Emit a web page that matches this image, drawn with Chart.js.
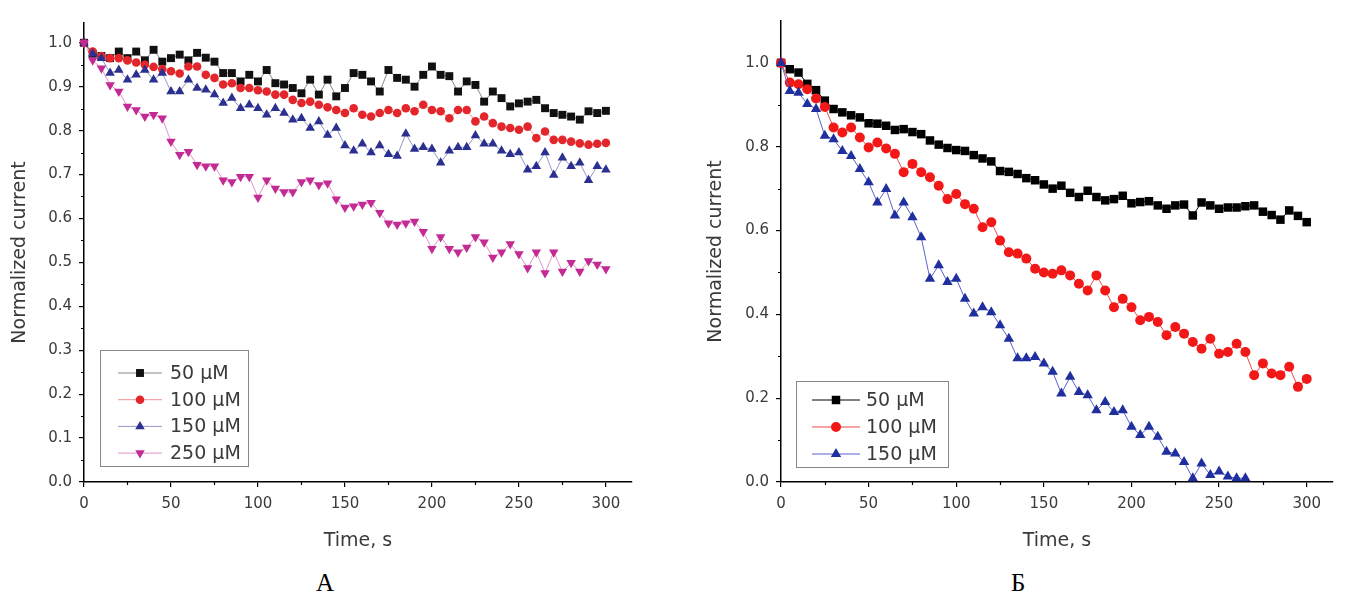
<!DOCTYPE html>
<html>
<head>
<meta charset="utf-8">
<script src="https://cdn.jsdelivr.net/npm/chart.js@4.4.1/dist/chart.umd.min.js"></script>
<style>
  body { margin: 0; background: #fff; width: 1348px; height: 594px; position: relative; overflow: hidden; }
  canvas { position: absolute; top: 0; }
  #chartA { left: 0; }
  #chartB { left: 674px; }
  .panel { position: absolute; font-family: 'Liberation Serif', serif; font-size: 25px; line-height: 25px; color: #000; }
</style>
</head>
<body>
<canvas id="chartA" width="674" height="560"></canvas>
<canvas id="chartB" width="674" height="560"></canvas>
<div class="panel" style="left:316px; top:570px;">А</div>
<div class="panel" style="left:1011px; top:570px;">Б</div>
<script>
// time axis, s
const time = [0, 5, 10, 15, 20, 25, 30, 35, 40, 45, 50, 55, 60, 65, 70, 75, 80, 85, 90, 95, 100,
    105, 110, 115, 120, 125, 130, 135, 140, 145, 150, 155, 160, 165, 170, 175, 180, 185, 190, 195, 200,
    205, 210, 215, 220, 225, 230, 235, 240, 245, 250, 255, 260, 265, 270, 275, 280, 285, 290, 295, 300];

const xTicks = [0, 50, 100, 150, 200, 250, 300];
const yTicksA = [0, 0.1, 0.2, 0.3, 0.4, 0.5, 0.6, 0.7, 0.8, 0.9, 1.0];
const yTicksB = [0, 0.2, 0.4, 0.6, 0.8, 1.0];

const labelsA = ['50 µM', '100 µM', '150 µM', '250 µM'];
const labelsB = ['50 µM', '100 µM', '150 µM'];

// panel A
const a50 = [1.0, 0.975, 0.97, 0.965, 0.98, 0.965, 0.98, 0.96, 0.984, 0.957, 0.965,
    0.973, 0.96, 0.977, 0.966, 0.957, 0.931, 0.931, 0.912, 0.927, 0.912,
    0.938, 0.908, 0.905, 0.897, 0.885, 0.916, 0.882, 0.916, 0.878, 0.897,
    0.931, 0.927, 0.912, 0.889, 0.938, 0.92, 0.916, 0.90, 0.927, 0.946,
    0.927, 0.924, 0.889, 0.912, 0.904, 0.866, 0.889, 0.874, 0.855, 0.862,
    0.866, 0.870, 0.851, 0.84, 0.836, 0.832, 0.825, 0.844, 0.84, 0.845];
const a100 = [1.0, 0.98, 0.97, 0.965, 0.965, 0.96, 0.955, 0.95, 0.945, 0.94, 0.935,
    0.93, 0.946, 0.946, 0.927, 0.92, 0.905, 0.908, 0.897, 0.897, 0.892,
    0.889, 0.882, 0.882, 0.87, 0.863, 0.866, 0.859, 0.853, 0.847, 0.84,
    0.851, 0.836, 0.832, 0.84, 0.847, 0.84, 0.851, 0.844, 0.859, 0.847,
    0.844, 0.828, 0.847, 0.847, 0.821, 0.832, 0.817, 0.809, 0.806, 0.802,
    0.809, 0.783, 0.798, 0.779, 0.779, 0.775, 0.771, 0.768, 0.77, 0.772];
const a150 = [1.0, 0.975, 0.965, 0.931, 0.938, 0.916, 0.927, 0.938, 0.916, 0.931, 0.889,
    0.889, 0.916, 0.897, 0.893, 0.882, 0.863, 0.874, 0.851, 0.859, 0.851,
    0.836, 0.851, 0.84, 0.825, 0.828, 0.806, 0.821, 0.79, 0.806, 0.766,
    0.754, 0.77, 0.75, 0.766, 0.746, 0.742, 0.793, 0.758, 0.762, 0.758,
    0.727, 0.754, 0.762, 0.762, 0.789, 0.77, 0.77, 0.754, 0.746, 0.75,
    0.711, 0.719, 0.75, 0.699, 0.738, 0.719, 0.727, 0.687, 0.719, 0.711];
const a250 = [1.0, 0.96, 0.942, 0.904, 0.889, 0.855, 0.847, 0.832, 0.836, 0.828, 0.775,
    0.745, 0.752, 0.722, 0.719, 0.719, 0.687, 0.683, 0.695, 0.695, 0.648,
    0.687, 0.668, 0.66, 0.66, 0.683, 0.687, 0.676, 0.68, 0.644, 0.625,
    0.628, 0.632, 0.636, 0.613, 0.589, 0.586, 0.589, 0.593, 0.57, 0.531,
    0.558, 0.531, 0.523, 0.534, 0.558, 0.546, 0.511, 0.523, 0.542, 0.519,
    0.487, 0.523, 0.476, 0.523, 0.479, 0.499, 0.479, 0.503, 0.495, 0.485];

// panel B
const b50 = [1.0, 0.985, 0.977, 0.95, 0.935, 0.91, 0.89, 0.882, 0.875, 0.87, 0.856,
    0.855, 0.85, 0.84, 0.842, 0.835, 0.83, 0.815, 0.805, 0.797, 0.792,
    0.79, 0.78, 0.772, 0.765, 0.742, 0.74, 0.735, 0.725, 0.72, 0.71,
    0.70, 0.707, 0.69, 0.68, 0.695, 0.68, 0.672, 0.675, 0.683, 0.665,
    0.668, 0.67, 0.66, 0.652, 0.66, 0.662, 0.636, 0.667, 0.66, 0.652,
    0.655, 0.655, 0.658, 0.66, 0.645, 0.637, 0.626, 0.648, 0.635, 0.62];
const b100 = [1.0, 0.953, 0.949, 0.937, 0.915, 0.895, 0.846, 0.834, 0.846, 0.822, 0.798,
    0.81, 0.796, 0.783, 0.739, 0.759, 0.739, 0.727, 0.707, 0.675, 0.687,
    0.663, 0.652, 0.608, 0.62, 0.576, 0.548, 0.545, 0.533, 0.509, 0.50,
    0.497, 0.505, 0.493, 0.473, 0.457, 0.493, 0.457, 0.417, 0.437, 0.417,
    0.386, 0.394, 0.382, 0.35, 0.37, 0.354, 0.334, 0.318, 0.342, 0.306,
    0.31, 0.33, 0.31, 0.255, 0.283, 0.259, 0.255, 0.275, 0.227, 0.246];
const b150 = [1.0, 0.933, 0.929, 0.902, 0.89, 0.826, 0.818, 0.79, 0.778, 0.747, 0.715,
    0.667, 0.699, 0.636, 0.667, 0.632, 0.584, 0.485, 0.517, 0.477, 0.485,
    0.437, 0.402, 0.417, 0.405, 0.374, 0.342, 0.295, 0.295, 0.298, 0.283,
    0.263, 0.211, 0.251, 0.215, 0.207, 0.171, 0.191, 0.167, 0.171, 0.132,
    0.112, 0.132, 0.108, 0.072, 0.068, 0.048, 0.009, 0.044, 0.017, 0.025,
    0.013, 0.009, 0.009];

const FONT = '"DejaVu Sans", sans-serif';
const TEXT = '#3a3a3a';

function toPoints(values) {
    return values.map((v, i) => ({ x: time[i], y: v }));
}

function series(label, values, color, lineColor, pointStyle, radius, rotation, order) {
    return {
        label: label,
        data: toPoints(values),
        showLine: true,
        borderColor: lineColor,
        borderWidth: 1,
        backgroundColor: color,
        pointBackgroundColor: color,
        pointBorderColor: color,
        pointBorderWidth: 0,
        pointStyle: pointStyle,
        pointRadius: radius,
        pointHoverRadius: radius,
        pointRotation: rotation,
        order: order,
        clip: false
    };
}

// small ticks between the labelled ones
const minorTicks = {
    id: 'minorTicks',
    afterDraw(chart, args, opts) {
        const { ctx, scales: { x, y } } = chart;
        ctx.save();
        ctx.strokeStyle = '#000';
        ctx.lineWidth = 1.2;
        ctx.beginPath();
        for (let i = 0; opts.xStep * (2 * i + 1) < x.max; i++) {
            const px = Math.round(x.getPixelForValue(opts.xStep * (2 * i + 1))) + 0.5;
            ctx.moveTo(px, y.bottom);
            ctx.lineTo(px, y.bottom + 3);
        }
        for (let i = 0; opts.yStep * (2 * i + 1) < y.max; i++) {
            const py = Math.round(y.getPixelForValue(opts.yStep * (2 * i + 1))) + 0.5;
            ctx.moveTo(x.left, py);
            ctx.lineTo(x.left - 3, py);
        }
        ctx.stroke();
        ctx.restore();
    }
};

// boxed legend inside the plot, bottom left
const boxLegend = {
    id: 'boxLegend',
    afterDatasetsDraw(chart, args, opts) {
        const { ctx } = chart;
        ctx.save();
        ctx.strokeStyle = '#888';
        ctx.lineWidth = 1;
        ctx.fillStyle = '#fff';
        ctx.fillRect(opts.x, opts.y, opts.w, opts.h);
        ctx.strokeRect(opts.x + 0.5, opts.y + 0.5, opts.w, opts.h);
        ctx.font = '19px ' + FONT;
        ctx.textBaseline = 'middle';
        ctx.textAlign = 'left';
        chart.data.datasets.forEach((ds, i) => {
            const cy = opts.y + opts.first + i * opts.step;
            ctx.strokeStyle = ds.borderColor;
            ctx.lineWidth = 1;
            ctx.beginPath();
            ctx.moveTo(opts.x + opts.lineFrom, cy);
            ctx.lineTo(opts.x + opts.lineTo, cy);
            ctx.stroke();
            ctx.fillStyle = ds.pointBackgroundColor;
            ctx.strokeStyle = ds.pointBorderColor;
            Chart.helpers.drawPoint(ctx, {
                pointStyle: ds.pointStyle,
                rotation: ds.pointRotation,
                radius: ds.pointRadius,
                borderWidth: 0
            }, opts.x + opts.marker, cy);
            ctx.fillStyle = TEXT;
            ctx.fillText(ds.label, opts.x + opts.text, cy + 1);
        });
        ctx.restore();
    }
};

function makeScales(yMax, yTicks, yWidth, xHeight, yTitlePad) {
    return {
        x: {
            type: 'linear',
            min: 0,
            max: 315,
            afterBuildTicks: s => { s.ticks = xTicks.map(v => ({ value: v })); },
            afterFit: s => { s.height = xHeight; },
            grid: { drawOnChartArea: false, drawTicks: true, tickLength: 5, color: '#000', lineWidth: 1.2 },
            border: { display: true, color: '#000', width: 1.5 },
            ticks: { color: TEXT, font: { family: FONT, size: 15 }, padding: 8, maxRotation: 0, callback: v => String(v) },
            title: { display: true, text: 'Time, s', color: TEXT, font: { family: FONT, size: 19 }, padding: { top: 0, bottom: 8 } }
        },
        y: {
            type: 'linear',
            min: 0,
            max: yMax,
            afterBuildTicks: s => { s.ticks = yTicks.map(v => ({ value: v })); },
            afterFit: s => { s.width = yWidth; },
            grid: { drawOnChartArea: false, drawTicks: true, tickLength: 5, color: '#000', lineWidth: 1.2 },
            border: { display: true, color: '#000', width: 1.5 },
            ticks: { color: TEXT, font: { family: FONT, size: 15 }, padding: 7, callback: v => v.toFixed(1) },
            title: { display: true, text: 'Normalized current', color: TEXT, font: { family: FONT, size: 19 }, padding: { top: yTitlePad, bottom: 0 } }
        }
    };
}

// panel A config
const configA = {
    type: 'scatter',
    data: {
        datasets: [
            series(labelsA[0], a50, '#111111', 'rgba(17,17,17,0.5)', 'rect', 5.6, 0, 4),
            series(labelsA[1], a100, '#e3262b', 'rgba(227,38,43,0.5)', 'circle', 4.3, 0, 3),
            series(labelsA[2], a150, '#2b2f8f', 'rgba(43,47,143,0.5)', 'triangle', 5.5, 0, 2),
            series(labelsA[3], a250, '#c32a93', 'rgba(195,42,147,0.5)', 'triangle', 5.5, 180, 1)
        ]
    },
    options: {
        responsive: false,
        animation: false,
        layout: { padding: { left: 0, top: 23, right: 42, bottom: 0 } },
        scales: makeScales(1.045, yTicksA, 84, 78, 9),
        plugins: {
            legend: { display: false },
            tooltip: { enabled: false },
            minorTicks: { xStep: 25, yStep: 0.05 },
            boxLegend: { x: 100, y: 350, w: 148, h: 116, first: 23, step: 26.7, lineFrom: 18, lineTo: 62, marker: 40, text: 70 }
        }
    },
    plugins: [minorTicks, boxLegend]
};

// panel B config
const configB = {
    type: 'scatter',
    data: {
        datasets: [
            series(labelsB[0], b50, '#000000', '#000000', 'rect', 6, 0, 3),
            series(labelsB[1], b100, '#f21818', '#f04848', 'circle', 5, 0, 2),
            series(labelsB[2], b150, '#1f2f9e', '#5a60d0', 'triangle', 6, 0, 1)
        ]
    },
    options: {
        responsive: false,
        animation: false,
        layout: { padding: { left: 0, top: 21, right: 15, bottom: 0 } },
        scales: makeScales(1.1, yTicksB, 107, 78, 31),
        plugins: {
            legend: { display: false },
            tooltip: { enabled: false },
            minorTicks: { xStep: 25, yStep: 0.1 },
            boxLegend: { x: 122, y: 381, w: 152, h: 86, first: 19, step: 27, lineFrom: 16, lineTo: 64, marker: 40, text: 70 }
        }
    },
    plugins: [minorTicks, boxLegend]
};

new Chart(document.getElementById('chartA'), configA);
new Chart(document.getElementById('chartB'), configB);
</script>
</body>
</html>
